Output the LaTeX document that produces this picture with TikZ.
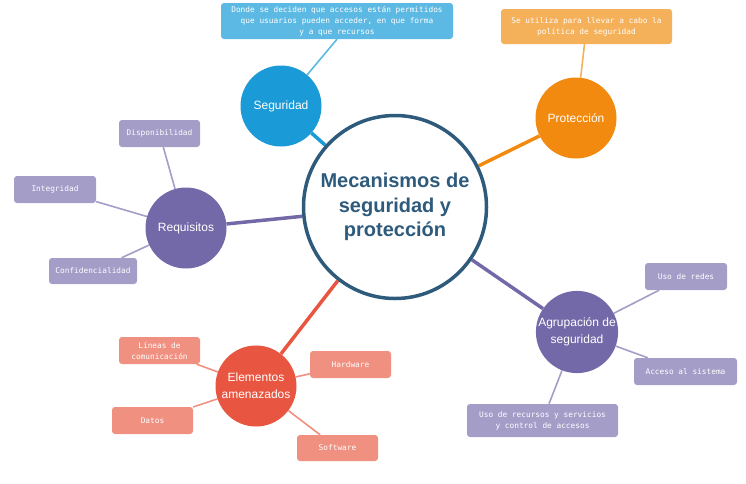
\documentclass[tikz,border=0pt]{standalone}
\usepackage{fontspec}
\setmainfont{Liberation Sans}
\newfontfamily\boxfont{DejaVu Sans Mono}
\usetikzlibrary{backgrounds}
\definecolor{cdark}{HTML}{2E5A7C}
\definecolor{cblue}{HTML}{1A9AD6}
\definecolor{cblueL}{HTML}{5CB9E3}
\definecolor{corange}{HTML}{F28A10}
\definecolor{corangeL}{HTML}{F5B05A}
\definecolor{cpurple}{HTML}{7469A8}
\definecolor{cpurpleL}{HTML}{A39DC8}
\definecolor{cred}{HTML}{E85540}
\definecolor{credL}{HTML}{F09080}
\tikzset{
  hub/.style={circle, draw=cdark, line width=3.5pt, fill=white, minimum size=183pt, inner sep=0pt,
    align=center, font=\fontsize{20}{24.5}\selectfont\bfseries, text=cdark},
  topic/.style={circle, fill=#1, minimum size=81pt, inner sep=0pt, align=center,
    font=\fontsize{12}{17}\selectfont, text=white},
  leaf/.style={rounded corners=3pt, fill=#1, inner sep=0pt, align=center,
    font=\boxfont\fontsize{7.8}{11}\selectfont, text=white},
  thick link/.style={draw=#1, line width=3.5pt},
  thin link/.style={draw=#1, line width=1.6pt},
}
\begin{document}
\begin{tikzpicture}[x=1pt,y=-1pt]
\useasboundingbox (0,0) rectangle (746,483);

\node[hub] (hub) at (395,207) {Mecanismos de\\seguridad y\\protección};

\node[topic=cblue] (seg) at (281,106) {Seguridad};
\node[topic=corange] (prot) at (576,118) {Protección};
\node[topic=cpurple] (req) at (186,228) {Requisitos};
\node[topic=cred] (elem) at (256,386) {Elementos\\amenazados};
\node[topic=cpurple] (agr) at (577,332) {Agrupación de\\seguridad};

\node[leaf=cblueL, minimum width=232pt, minimum height=36pt] (segbox) at (337,21)
  {Donde se deciden que accesos están permitidos\\que usuarios pueden acceder, en que forma\\y a que recursos};
\node[leaf=corangeL, minimum width=171pt, minimum height=35pt] (protbox) at (586.5,26.5)
  {Se utiliza para llevar a cabo la\\política de seguridad};

\node[leaf=cpurpleL, minimum width=81pt, minimum height=27pt] (disp) at (159.5,133.5) {Disponibilidad};
\node[leaf=cpurpleL, minimum width=82pt, minimum height=27pt] (integ) at (55,189.5) {Integridad};
\node[leaf=cpurpleL, minimum width=88pt, minimum height=26pt] (conf) at (93,271) {Confidencialidad};

\node[leaf=credL, minimum width=81pt, minimum height=27pt] (lineas) at (159.5,350.5) {Líneas de\\comunicación};
\node[leaf=credL, minimum width=81pt, minimum height=27pt] (hard) at (350.5,364.5) {Hardware};
\node[leaf=credL, minimum width=81pt, minimum height=27pt] (datos) at (152.5,420.5) {Datos};
\node[leaf=credL, minimum width=81pt, minimum height=26pt] (soft) at (337.5,448) {Software};

\node[leaf=cpurpleL, minimum width=82pt, minimum height=27pt] (redes) at (686,276.5) {Uso de redes};
\node[leaf=cpurpleL, minimum width=103pt, minimum height=27pt] (acceso) at (685.5,371.5) {Acceso al sistema};
\node[leaf=cpurpleL, minimum width=151pt, minimum height=33pt] (recursos) at (542.5,420.5)
  {Uso de recursos y servicios\\y control de accesos};

\begin{scope}[on background layer]
  \draw[thick link=cblue] (hub) -- (seg);
  \draw[thick link=corange] (hub) -- (prot);
  \draw[thick link=cpurple] (hub) -- (req);
  \draw[thick link=cred] (hub) -- (elem);
  \draw[thick link=cpurple] (hub) -- (agr);

  \draw[thin link=cblueL] (segbox.south) -- (seg);
  \draw[thin link=corangeL] ([xshift=-2pt]protbox.south) -- (prot);

  \draw[thin link=cpurpleL] (disp) -- (req);
  \draw[thin link=cpurpleL] (integ) -- (req);
  \draw[thin link=cpurpleL] (conf) -- (req);

  \draw[thin link=credL] (lineas) -- (elem);
  \draw[thin link=credL] (hard) -- (elem);
  \draw[thin link=credL] (datos) -- (elem);
  \draw[thin link=credL] (soft) -- (elem);

  \draw[thin link=cpurpleL] (redes) -- (agr);
  \draw[thin link=cpurpleL] (acceso) -- (agr);
  \draw[thin link=cpurpleL] (recursos) -- (agr);
\end{scope}
\end{tikzpicture}
\end{document}
